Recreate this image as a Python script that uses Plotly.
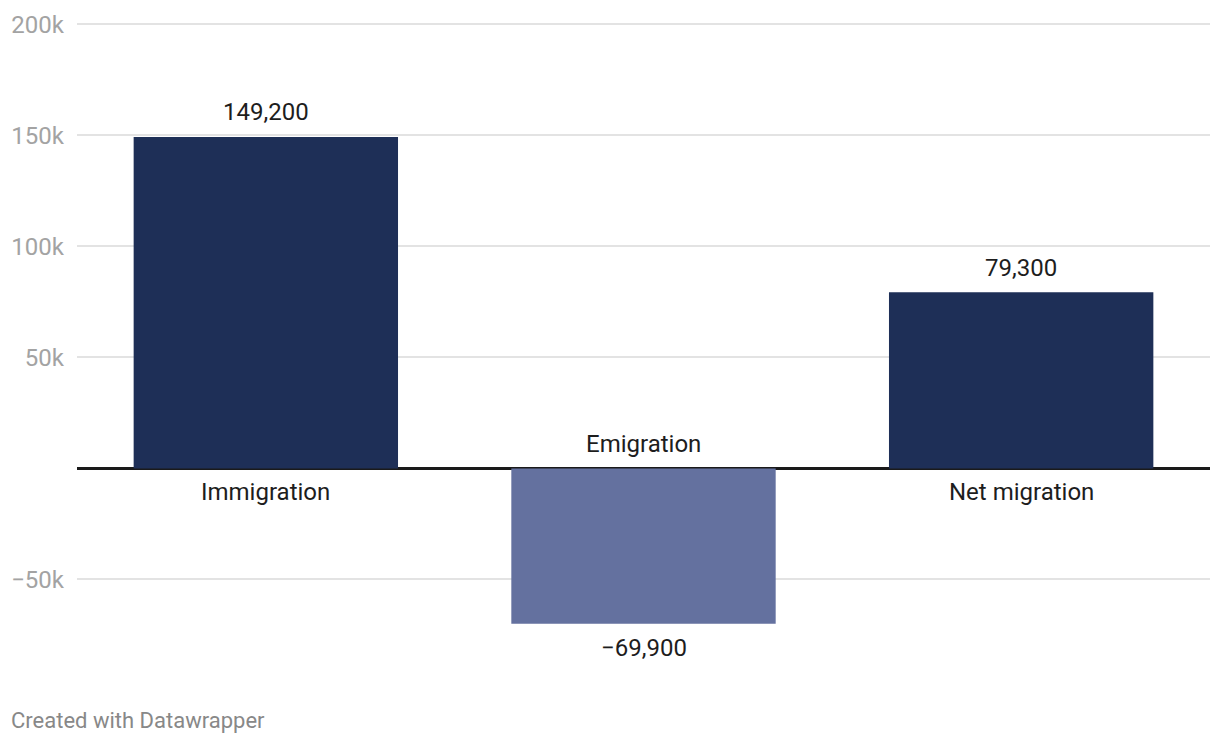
import plotly.graph_objects as go

categories = ["Immigration", "Emigration", "Net migration"]
values = [149200, -69900, 79300]
bar_colors = ["#1e2f57", "#64719f", "#1e2f57"]
tick_vals = [-50000, 50000, 100000, 150000, 200000]
tick_text = ["\u221250k", "50k", "100k", "150k", "200k"]

FONT = "Roboto"
TXT = "#1d1d1d"

fig = go.Figure()
fig.add_trace(go.Bar(
    x=categories, y=values, marker=dict(color=bar_colors, line=dict(width=0)),
    hoverinfo="skip", showlegend=False,
))

def fmt(v):
    s = f"{abs(v):,}"
    return ("\u2212" + s) if v < 0 else s

annotations = []
for c, v in zip(categories, values):
    sign = 1 if v >= 0 else -1
    annotations.append(dict(x=c, y=v, xref="x", yref="y", text=fmt(v), showarrow=False,
                            yshift=24.5 * sign, xanchor="center", yanchor="middle",
                            font=dict(family=FONT, size=24, color=TXT)))
    annotations.append(dict(x=c, y=0, xref="x", yref="y", text=c, showarrow=False,
                            yshift=-24 * sign, xanchor="center", yanchor="middle",
                            font=dict(family=FONT, size=24, color=TXT)))

annotations.append(dict(x=0, y=0, xref="paper", yref="paper", text="Created with Datawrapper",
                        showarrow=False, xanchor="left", yanchor="middle", xshift=-68, yshift=-85,
                        font=dict(family=FONT, size=22, color="#888888")))

fig.update_layout(
    width=1220, height=744,
    margin=dict(l=77, r=10, t=23, b=109, pad=0),
    paper_bgcolor="white", plot_bgcolor="white",
    bargap=0.3,
    annotations=annotations,
    font=dict(family=FONT),
    xaxis=dict(showticklabels=False, showgrid=False, zeroline=False, showline=False, ticks=""),
    yaxis=dict(range=[-75000, 200500], tickvals=tick_vals, ticktext=tick_text,
               showgrid=True, gridcolor="#e3e3e3", gridwidth=1.5,
               zeroline=True, zerolinecolor="#1a1a1a", zerolinewidth=2.5,
               ticks="", ticklabelstandoff=12,
               tickfont=dict(family=FONT, size=24, color="#a3a3a3"),
               showline=False),
)

fig.write_html("out.html", config={"displayModeBar": False},
               post_script="document.body.style.margin='0px';")
